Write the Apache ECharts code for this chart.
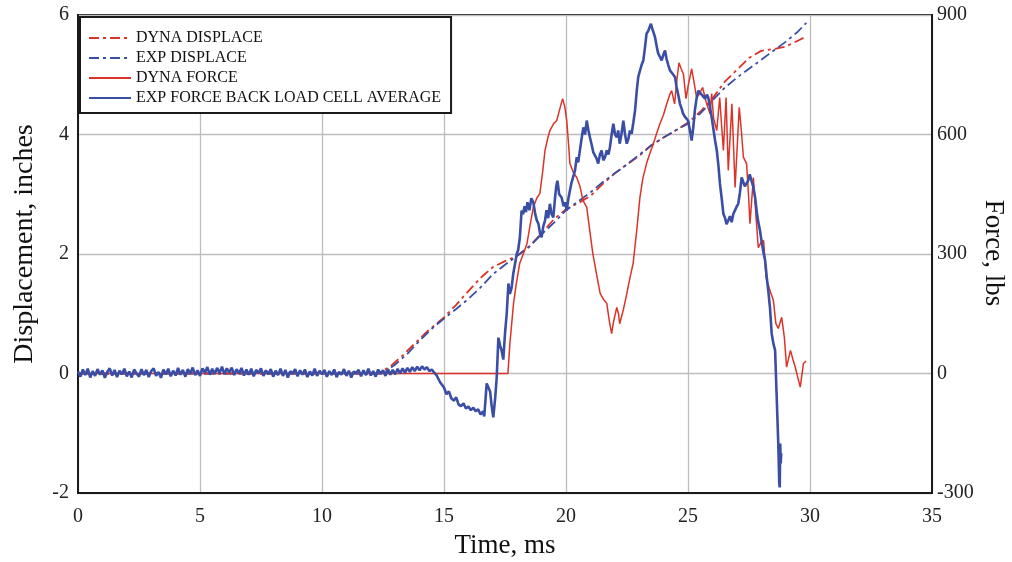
<!DOCTYPE html>
<html>
<head>
<meta charset="utf-8">
<script src="https://cdn.jsdelivr.net/npm/echarts@6/dist/echarts.min.js"></script>
<style>html,body{margin:0;padding:0;background:#fff}#c{width:1012px;height:562px}</style>
</head>
<body>
<div id="c"></div>
<script>
var xTicks = [0, 5, 10, 15, 20, 25, 30, 35];
var dispTicks = [-2, 0, 2, 4, 6];
var forceTicks = [-300, 0, 300, 600, 900];
var seriesNames = ['DYNA DISPLACE', 'EXP DISPLACE', 'DYNA FORCE', 'EXP FORCE BACK LOAD CELL AVERAGE'];

// [time ms, displacement in]
var dynaDisplace = [[0,0],[12.3,0],[12.8,0.12],[13.3,0.3],[13.8,0.5],[14.3,0.7],[15.0,0.94],[15.5,1.15],[16.0,1.38],[16.5,1.6],[17.0,1.78],[17.5,1.88],[18.0,1.97],[18.5,2.12],[19.0,2.35],[19.5,2.58],[20.0,2.75],[20.5,2.85],[21.0,2.97],[21.5,3.17],[22.0,3.35],[22.5,3.5],[23.0,3.64],[23.5,3.82],[24.0,3.95],[24.5,4.07],[25.0,4.2],[25.5,4.38],[26.0,4.6],[26.5,4.88],[27.0,5.08],[27.5,5.28],[28.0,5.4],[28.5,5.43],[29.0,5.47],[29.5,5.57],[29.8,5.63]];
var expDisplace = [[0,0],[12.5,0],[13.0,0.15],[13.5,0.33],[14.0,0.55],[14.5,0.75],[15.0,0.92],[15.5,1.08],[16.0,1.25],[16.5,1.44],[17.0,1.66],[17.5,1.82],[18.0,1.97],[18.5,2.13],[19.0,2.33],[19.5,2.52],[20.0,2.73],[20.5,2.88],[21.0,3.03],[21.5,3.2],[22.0,3.35],[22.5,3.5],[23.0,3.66],[23.5,3.82],[24.0,3.95],[24.5,4.07],[25.0,4.18],[25.5,4.35],[26.0,4.57],[26.5,4.78],[27.0,4.95],[27.5,5.1],[28.0,5.25],[28.5,5.4],[29.0,5.55],[29.5,5.72],[29.85,5.87]];
// [time ms, force lbs]
var dynaForce = [[0,0],[17.62,0],[17.7,75],[17.85,176],[17.95,220],[18.1,276],[18.25,300],[18.4,326],[18.55,380],[18.66,417],[18.8,440],[18.93,452],[19.05,510],[19.14,560],[19.25,590],[19.34,610],[19.5,628],[19.62,635],[19.75,665],[19.86,690],[19.95,670],[20.03,635],[20.1,580],[20.16,527],[20.3,505],[20.44,492],[20.57,470],[20.7,434],[20.85,417],[20.95,370],[21.1,301],[21.25,250],[21.4,201],[21.55,185],[21.67,176],[21.78,130],[21.87,100],[21.95,130],[22.08,166],[22.15,150],[22.2,125],[22.35,160],[22.49,200],[22.62,240],[22.75,276],[22.9,360],[23.03,442],[23.15,490],[23.3,527],[23.45,555],[23.58,577],[23.7,600],[23.85,627],[24.0,650],[24.13,677],[24.25,700],[24.33,710],[24.45,677],[24.55,740],[24.63,780],[24.72,765],[24.81,752],[24.92,690],[25.0,720],[25.15,765],[25.25,730],[25.35,693],[25.45,700],[25.6,718],[25.75,680],[25.9,652],[25.97,703],[26.05,640],[26.18,610],[26.3,693],[26.38,620],[26.45,560],[26.56,693],[26.65,510],[26.8,677],[26.93,467],[27.1,668],[27.2,600],[27.27,543],[27.4,527],[27.47,460],[27.54,376],[27.68,492],[27.78,400],[27.88,316],[28.0,330],[28.1,334],[28.2,241],[28.35,210],[28.5,183],[28.6,126],[28.7,113],[28.84,141],[28.95,90],[29.04,16],[29.2,58],[29.3,35],[29.4,15],[29.5,-10],[29.6,-34],[29.73,25],[29.84,31]];
var expForce = [[0.0,5],[0.1,-8],[0.2,10],[0.3,-4],[0.4,12],[0.5,-10],[0.6,6],[0.7,-6],[0.8,11],[0.9,-3],[1.0,8],[1.1,-11],[1.2,4],[1.3,13],[1.4,-5],[1.5,9],[1.6,-9],[1.7,7],[1.8,-2],[1.9,12],[2.0,-7],[2.1,5],[2.2,-10],[2.3,10],[2.4,0],[2.5,-8],[2.6,11],[2.7,-4],[2.8,9],[2.9,-9],[3.0,6],[3.1,13],[3.2,-6],[3.3,4],[3.4,-11],[3.5,10],[3.6,-2],[3.7,12],[3.8,-7],[3.9,7],[4.0,-5],[4.1,14],[4.2,-3],[4.3,9],[4.4,-8],[4.5,11],[4.6,0],[4.7,15],[4.8,-4],[4.9,8],[5.0,-6],[5.1,13],[5.2,2],[5.3,16],[5.4,-3],[5.5,12],[5.6,-1],[5.7,14],[5.8,1],[5.9,17],[6.0,-2],[6.1,13],[6.2,3],[6.3,15],[6.4,-4],[6.5,11],[6.6,0],[6.7,14],[6.8,-5],[6.9,10],[7.0,-3],[7.1,12],[7.2,-7],[7.3,9],[7.4,1],[7.5,13],[7.6,-6],[7.7,8],[7.8,-2],[7.9,11],[8.0,-8],[8.1,7],[8.2,-4],[8.3,12],[8.4,-6],[8.5,9],[8.6,-10],[8.7,6],[8.8,0],[8.9,11],[9.0,-7],[9.1,8],[9.2,-3],[9.3,10],[9.4,-9],[9.5,5],[9.6,-5],[9.7,12],[9.8,-6],[9.9,7],[10.0,-2],[10.1,9],[10.2,-8],[10.3,6],[10.4,-4],[10.5,10],[10.6,-9],[10.7,4],[10.8,-3],[10.9,11],[11.0,-6],[11.1,7],[11.2,-10],[11.3,5],[11.4,1],[11.5,9],[11.6,-7],[11.7,8],[11.8,-4],[11.9,12],[12.0,-5],[12.1,6],[12.2,-8],[12.3,10],[12.4,-1],[12.5,8],[12.6,-6],[12.7,11],[12.8,-3],[12.9,9],[13.0,-2],[13.1,12],[13.2,0],[13.3,13],[13.4,2],[13.5,14],[13.6,4],[13.7,16],[13.8,6],[13.9,17],[14.0,8],[14.1,18],[14.2,10],[14.3,16],[14.4,6],[14.5,10],[14.6,2],[14.7,-5],[14.84,-22],[15.0,-35],[15.1,-52],[15.2,-45],[15.3,-62],[15.4,-68],[15.5,-60],[15.6,-78],[15.7,-82],[15.8,-75],[15.9,-88],[16.0,-83],[16.1,-92],[16.2,-86],[16.3,-95],[16.4,-90],[16.5,-103],[16.6,-95],[16.65,-108],[16.75,-25],[16.82,-30],[16.89,-45],[16.95,-80],[17.02,-110],[17.1,-60],[17.16,-10],[17.23,90],[17.3,70],[17.36,58],[17.43,35],[17.5,100],[17.57,150],[17.64,226],[17.7,200],[17.77,215],[17.84,251],[17.91,275],[17.98,300],[18.04,310],[18.11,342],[18.18,409],[18.24,400],[18.3,420],[18.36,405],[18.42,430],[18.5,410],[18.58,440],[18.66,430],[18.74,400],[18.8,385],[18.87,376],[18.94,350],[19.0,342],[19.07,370],[19.14,384],[19.2,410],[19.27,390],[19.34,426],[19.41,400],[19.48,392],[19.55,440],[19.6,470],[19.65,484],[19.72,450],[19.82,442],[19.9,420],[19.96,430],[20.03,409],[20.1,440],[20.16,459],[20.23,480],[20.3,476],[20.37,510],[20.44,543],[20.5,530],[20.57,560],[20.64,590],[20.71,618],[20.78,600],[20.85,635],[20.92,610],[20.98,593],[21.05,575],[21.12,555],[21.19,560],[21.25,540],[21.32,527],[21.39,550],[21.46,560],[21.53,535],[21.6,543],[21.67,560],[21.74,550],[21.8,568],[21.87,600],[21.94,627],[22.01,600],[22.08,593],[22.14,610],[22.2,577],[22.27,600],[22.35,635],[22.42,600],[22.49,577],[22.56,590],[22.62,610],[22.69,602],[22.76,630],[22.83,660],[22.9,710],[22.96,744],[23.03,760],[23.1,775],[23.17,786],[23.24,820],[23.3,853],[23.37,860],[23.43,870],[23.48,878],[23.54,865],[23.6,860],[23.65,844],[23.72,820],[23.78,803],[23.85,795],[23.92,786],[23.99,800],[24.06,811],[24.12,790],[24.19,775],[24.26,761],[24.33,765],[24.4,750],[24.47,744],[24.53,720],[24.6,700],[24.67,677],[24.74,665],[24.8,652],[24.87,645],[24.94,640],[25.0,635],[25.08,610],[25.15,585],[25.22,620],[25.28,660],[25.35,690],[25.42,710],[25.5,705],[25.56,700],[25.63,703],[25.7,690],[25.77,700],[25.83,693],[25.9,670],[25.97,643],[26.05,610],[26.11,585],[26.18,560],[26.25,520],[26.31,476],[26.38,440],[26.45,401],[26.52,390],[26.58,375],[26.65,384],[26.72,395],[26.79,380],[26.86,401],[26.93,410],[27.0,420],[27.06,426],[27.13,455],[27.2,492],[27.27,480],[27.33,470],[27.4,467],[27.47,485],[27.53,500],[27.6,497],[27.67,470],[27.75,442],[27.82,405],[27.88,380],[27.95,359],[28.02,330],[28.09,305],[28.16,284],[28.23,240],[28.29,208],[28.36,165],[28.43,100],[28.5,75],[28.57,58],[28.63,-50],[28.7,-176],[28.74,-276],[28.76,-286],[28.78,-176],[28.8,-226],[28.82,-200]];

var RED = '#dc3328';
var BLUE = '#3a4ea6';
var FONT = 'Liberation Serif';

var chart = echarts.init(document.getElementById('c'));
chart.setOption({
  animation: false,
  backgroundColor: '#fff',
  grid: { left: 78, right: 80, top: 15, bottom: 69, show: true, borderColor: '#1a1a1a', borderWidth: 2, backgroundColor: 'transparent' },
  legend: {
    data: seriesNames,
    orient: 'vertical', left: 80, top: 17,
    itemWidth: 42, itemHeight: 12, itemGap: 4,
    padding: [13, 10, 7, 8],
    backgroundColor: '#fff', borderColor: '#1a1a1a', borderWidth: 2,
    itemStyle: { opacity: 0 },
    textStyle: { fontFamily: FONT, fontSize: 16, color: '#111' }
  },
  xAxis: {
    type: 'value', min: xTicks[0], max: xTicks[xTicks.length - 1], interval: 5,
    axisLine: { show: true, onZero: false, lineStyle: { color: '#1a1a1a', width: 2 } },
    axisTick: { show: false },
    axisLabel: { fontFamily: FONT, fontSize: 20, color: '#222', margin: 14 },
    splitLine: { show: true, lineStyle: { color: '#bdbdbd', width: 1.3 } }
  },
  yAxis: [{
    type: 'value', min: dispTicks[0], max: dispTicks[dispTicks.length - 1], interval: 2,
    axisLine: { show: true, lineStyle: { color: '#1a1a1a', width: 2 } },
    axisTick: { show: false },
    axisLabel: { fontFamily: FONT, fontSize: 20, color: '#222', margin: 9 },
    splitLine: { show: true, lineStyle: { color: '#bdbdbd', width: 1.3 } }
  }, {
    type: 'value', min: forceTicks[0], max: forceTicks[forceTicks.length - 1], interval: 300,
    position: 'right',
    axisLine: { show: true, lineStyle: { color: '#1a1a1a', width: 2 } },
    axisTick: { show: false },
    axisLabel: { fontFamily: FONT, fontSize: 20, color: '#222', margin: 5 },
    splitLine: { show: false }
  }],
  graphic: [
    { type: 'text', x: 505, y: 546, style: { text: 'Time, ms', font: '27px "Liberation Serif"', fill: '#111', align: 'center', verticalAlign: 'middle' } },
    { type: 'text', x: 25, y: 244, rotation: Math.PI / 2, style: { text: 'Displacement, inches', font: '28px "Liberation Serif"', fill: '#111', align: 'center', verticalAlign: 'middle' } },
    { type: 'text', x: 993, y: 253, rotation: -Math.PI / 2, style: { text: 'Force, lbs', font: '27px "Liberation Serif"', fill: '#111', align: 'center', verticalAlign: 'middle' } }
  ],
  series: [
    { name: seriesNames[0], type: 'line', yAxisIndex: 0, data: dynaDisplace, symbol: 'none', lineStyle: { color: RED, width: 1.8, type: [10, 4, 3, 4] }, itemStyle: { color: RED } },
    { name: seriesNames[1], type: 'line', yAxisIndex: 0, data: expDisplace, symbol: 'none', lineStyle: { color: BLUE, width: 1.8, type: [10, 4, 3, 4] }, itemStyle: { color: BLUE } },
    { name: seriesNames[2], type: 'line', yAxisIndex: 1, data: dynaForce, symbol: 'none', lineStyle: { color: RED, width: 1.5 }, itemStyle: { color: RED } },
    { name: seriesNames[3], type: 'line', yAxisIndex: 1, data: expForce, symbol: 'none', lineStyle: { color: BLUE, width: 2.6 }, itemStyle: { color: BLUE } }
  ]
});
</script>
</body>
</html>
